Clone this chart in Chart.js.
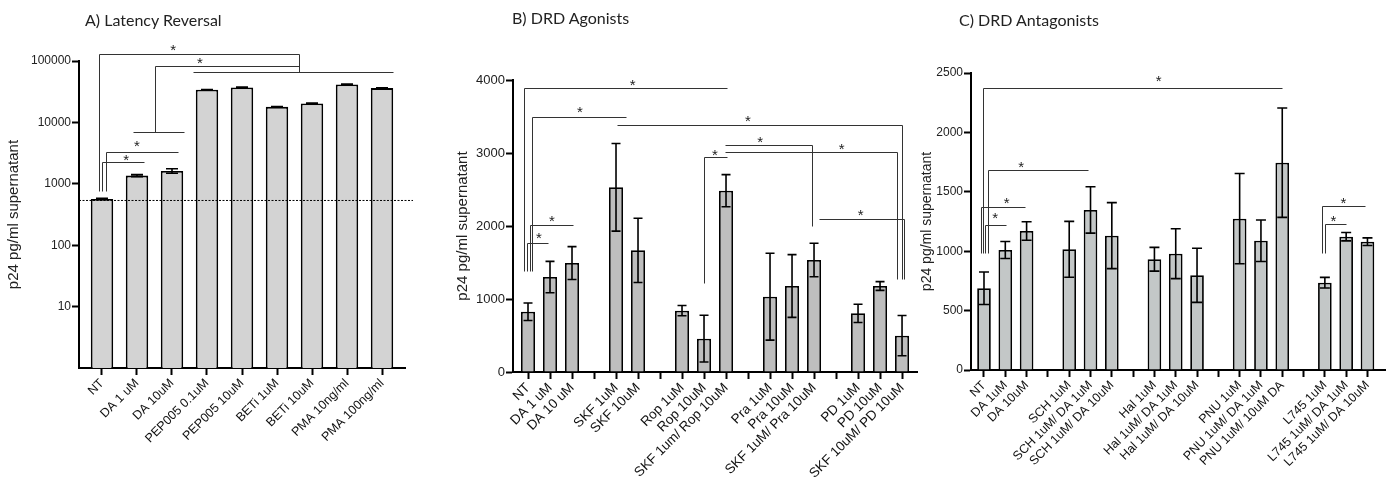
<!DOCTYPE html>
<html>
<head>
<meta charset="utf-8">
<script src="https://cdn.jsdelivr.net/npm/chart.js@4.4.1/dist/chart.umd.min.js"></script>
<style>
  body { margin: 0; background: #fff; }
  #wrap { position: relative; width: 1386px; height: 479px; overflow: hidden; }
  canvas { position: absolute; top: 0; }
  .title { position: absolute; font-family: 'Lato', sans-serif; font-size: 16px; line-height: 16px; color: #222; white-space: nowrap; }
</style>
</head>
<body>
<div id="wrap">
  <canvas id="chartA" width="420" height="479" style="left:0px"></canvas>
  <canvas id="chartB" width="480" height="479" style="left:440px"></canvas>
  <canvas id="chartC" width="480" height="479" style="left:906px"></canvas>
  <div class="title" style="left:85px;top:12px">A) Latency Reversal</div>
  <div class="title" style="left:512px;top:10px">B) DRD Agonists</div>
  <div class="title" style="left:959px;top:12px">C) DRD Antagonists</div>
</div>
<script>
// A) latency reversal (log axis)
const aLabels = ['NT', 'DA 1 uM', 'DA 10uM', 'PEP005 0.1uM', 'PEP005 10uM', 'BETi 1uM', 'BETi 10uM', 'PMA 10ng/ml', 'PMA 100ng/ml'];
const aValues = [566, 1359, 1622, 34000, 37100, 17900, 20300, 41500, 36200];
const aErrors = [12, 50, 140, 400, 600, 250, 400, 700, 400];
const aTicks = [10, 100, 1000, 10000, 100000];
const aCutoff = 535;
// significance brackets: [index, value] points
const aBrackets = [
  [[-0.09, 764], [-0.09, 130000], [5.63, 130000], [5.63, 65200]],
  [[2.6, 65200], [8.31, 65200]],
  [[1.51, 7100], [1.51, 82900], [5.63, 82900]],
  [[0.89, 7100], [2.34, 7100]],
  [[0.11, 764], [0.11, 3270], [2.17, 3270]],
  [[0, 764], [0, 2250], [1.2, 2250]]
];
const aStars = [[2.03, 171000], [2.8, 105000], [1.0, 4650], [0.69, 2740]];

// B) DRD agonists
const bLabels = ['NT', 'DA 1 uM', 'DA 10 uM', '', 'SKF 1uM', 'SKF 10uM', '', 'Rop 1uM', 'Rop 10uM', 'SKF 1um/ Rop 10uM', '', 'Pra 1uM', 'Pra 10uM', 'SKF 1uM/ Pra 10uM', '', 'PD 1uM', 'PD 10uM', 'SKF 10uM/ PD 10uM'];
const bValues = [826, 1301, 1493, null, 2530, 1667, null, 840, 457, 2484, null, 1032, 1178, 1534, null, 804, 1178, 498];
const bErrors = [120, 215, 225, null, 600, 440, null, 70, 320, 220, null, 595, 430, 230, null, 125, 60, 275];
const bBrackets = [
  [[-0.16, 1390], [-0.16, 3886], [9.03, 3886]],
  [[-0.05, 1390], [-0.05, 1771], [0.9, 1771]],
  [[0.07, 1390], [0.07, 2014], [2.06, 2014]],
  [[0.18, 1390], [0.18, 3489], [4.45, 3489]],
  [[4.03, 3384], [16.99, 3384], [16.99, 1275]],
  [[8.95, 3105], [12.92, 3105], [12.92, 2000]],
  [[8.95, 3010], [16.79, 3010], [16.79, 1275]],
  [[8.01, 1215], [8.01, 2941], [9.03, 2941]],
  [[13.23, 2092], [17.1, 2092], [17.1, 1275]]
];
const bStars = [[4.76, 3986], [2.36, 3603], [10, 3493], [10.55, 3205], [14.26, 3096], [8.5, 3014], [15.12, 2205], [1.09, 2110], [0.5, 1877]];

// C) DRD antagonists
const cLabels = ['NT', 'DA 1uM', 'DA 10uM', '', 'SCH 1uM', 'SCH 1uM/ DA 1uM', 'SCH 1uM/ DA 10uM', '', 'Hal 1uM', 'Hal 1uM/ DA 1uM', 'Hal 1uM/ DA 10uM', '', 'PNU 1uM', 'PNU 1uM/ DA 1uM', 'PNU 1uM/ 10uM DA', '', 'L745 1uM', 'L745 1uM/ DA 1uM', 'L745 1uM/ DA 10uM'];
const cValues = [688, 1010, 1170, null, 1016, 1347, 1131, null, 932, 979, 797, null, 1274, 1088, 1745, null, 735, 1122, 1080];
const cErrors = [137, 72, 78, null, 235, 195, 278, null, 100, 210, 228, null, 380, 175, 460, null, 45, 35, 32];
const cBrackets = [
  [[-0.05, 982], [-0.05, 2371], [14.0, 2371]],
  [[0.19, 982], [0.19, 1681], [4.87, 1681]],
  [[-0.14, 982], [-0.14, 1369], [1.92, 1369]],
  [[0.07, 982], [0.07, 1220], [1.03, 1220]],
  [[15.85, 987], [15.85, 1380], [17.89, 1380]],
  [[16.03, 987], [16.03, 1231], [17.0, 1231]]
];
const cStars = [[8.2, 2458], [1.74, 1742], [1.07, 1439], [0.53, 1305], [16.87, 1437], [16.4, 1285]];

const FONT = "'Liberation Sans', Arial, sans-serif";
Chart.defaults.font.family = FONT;
Chart.defaults.color = '#222';

// error bars, cutoff line, brackets and stars
const marks = {
  id: 'marks',
  afterDatasetsDraw(chart, args, opts) {
    const {ctx, scales: {x, y}} = chart;
    ctx.save();
    ctx.strokeStyle = '#000';
    ctx.lineWidth = 1.6;
    opts.values.forEach((v, i) => {
      if (v == null || !opts.errors[i]) return;
      const px = x.getPixelForValue(i);
      const top = y.getPixelForValue(v + opts.errors[i]);
      const bot = y.getPixelForValue(v - opts.errors[i]);
      ctx.beginPath();
      ctx.moveTo(px, top); ctx.lineTo(px, bot);
      ctx.moveTo(px - opts.cap, top); ctx.lineTo(px + opts.cap, top);
      ctx.moveTo(px - opts.cap, bot); ctx.lineTo(px + opts.cap, bot);
      ctx.stroke();
    });
    ctx.restore();
  },
  afterDraw(chart, args, opts) {
    const {ctx, chartArea, scales: {x, y}} = chart;
    ctx.save();
    if (opts.cutoff) {
      const py = y.getPixelForValue(opts.cutoff);
      ctx.setLineDash([2, 1.5]);
      ctx.strokeStyle = '#000';
      ctx.lineWidth = 1;
      ctx.beginPath();
      ctx.moveTo(chartArea.left, py);
      ctx.lineTo(chartArea.right + 8, py);
      ctx.stroke();
      ctx.setLineDash([]);
    }
    ctx.strokeStyle = '#333';
    ctx.lineWidth = 1;
    opts.brackets.forEach(pts => {
      ctx.beginPath();
      pts.forEach(([bx, by], k) => {
        const px = Math.round(x.getPixelForValue(bx)) + 0.5;
        const py = Math.round(y.getPixelForValue(by)) + 0.5;
        if (k === 0) ctx.moveTo(px, py); else ctx.lineTo(px, py);
      });
      ctx.stroke();
    });
    ctx.fillStyle = '#222';
    ctx.font = '15px ' + FONT;
    ctx.textAlign = 'center';
    ctx.textBaseline = 'alphabetic';
    opts.stars.forEach(([sx, sy]) => {
      ctx.fillText('*', x.getPixelForValue(sx), y.getPixelForValue(sy) + 8.5);
    });
    ctx.restore();
  }
};

function makeChart(id, p) {
  const data = [];
  p.values.forEach((v, i) => { if (v != null) data.push({x: i, y: v}); });
  const yOpts = {
    afterFit: s => { s.width = p.yWidth; },
    grid: { display: true, drawOnChartArea: false, tickLength: 7, tickWidth: 2, tickColor: '#000' },
    border: { display: true, color: '#000', width: 2 },
    ticks: { font: { size: p.tickSize }, color: '#222', padding: 1, stepSize: p.yStep, callback: v => String(v) },
    title: {
      display: true, text: 'p24 pg/ml supernatant', color: '#222',
      font: { size: p.titleSize }, padding: { top: p.titlePad, bottom: 0 }
    },
    type: p.yType, min: p.yMin, max: p.yMax
  };
  if (p.yTicks) yOpts.afterBuildTicks = s => { s.ticks = p.yTicks.map(v => ({value: v})); };
  return new Chart(document.getElementById(id), {
    type: 'bar',
    data: {
      datasets: [{
        data: data,
        backgroundColor: p.barColor,
        borderColor: '#000',
        borderWidth: 1.8,
        barPercentage: 0.64,
        categoryPercentage: 1
      }]
    },
    options: {
      responsive: false,
      animation: false,
      layout: { padding: p.padding },
      scales: {
        x: {
          type: 'linear',
          min: p.xMin,
          max: p.xMax,
          offset: false,
          afterBuildTicks: s => { s.ticks = p.labels.map((_, i) => ({value: i})); },
          afterFit: s => { s.height = p.xHeight; },
          grid: { display: true, offset: false, drawOnChartArea: false, tickLength: 7, tickWidth: 2, tickColor: '#000' },
          border: { display: true, color: '#000', width: 2 },
          ticks: {
            autoSkip: false, maxRotation: 45, minRotation: 45, padding: 1,
            font: { size: p.labelSize }, color: '#111',
            callback: v => p.labels[v] || ''
          }
        },
        y: yOpts
      },
      plugins: {
        legend: { display: false },
        tooltip: { enabled: false },
        marks: { values: p.values, errors: p.errors, cap: p.cap, brackets: p.brackets, stars: p.stars, cutoff: p.cutoff }
      }
    },
    plugins: [marks]
  });
}

makeChart('chartA', {
  labels: aLabels, values: aValues, errors: aErrors, brackets: aBrackets, stars: aStars, cutoff: aCutoff,
  barColor: '#d3d3d3', cap: 6, xMin: -0.657, xMax: 8.657, xHeight: 111, yWidth: 79,
  padding: { top: 61, right: 15, bottom: 0, left: 0 },
  tickSize: 12, labelSize: 12.5, titleSize: 15, titlePad: 5,
  yType: 'logarithmic', yMin: 1, yMax: 100000, yTicks: aTicks
});

makeChart('chartB', {
  labels: bLabels, values: bValues, errors: bErrors, brackets: bBrackets, stars: bStars,
  barColor: '#bebebe', cap: 4.5, xMin: -0.682, xMax: 17.68, xHeight: 107, yWidth: 73,
  padding: { top: 80, right: 3, bottom: 0, left: 0 },
  tickSize: 13, labelSize: 13.5, titleSize: 15, titlePad: 14,
  yType: 'linear', yMin: 0, yMax: 4000, yStep: 1000
});

makeChart('chartC', {
  labels: cLabels, values: cValues, errors: cErrors, brackets: cBrackets, stars: cStars,
  barColor: '#c3c7c7', cap: 5, xMin: -0.61, xMax: 18.87, xHeight: 109, yWidth: 65,
  padding: { top: 73, right: 0, bottom: 0, left: 0 },
  tickSize: 12, labelSize: 12.5, titleSize: 14, titlePad: 13,
  yType: 'linear', yMin: 0, yMax: 2500, yStep: 500
});
</script>
</body>
</html>
